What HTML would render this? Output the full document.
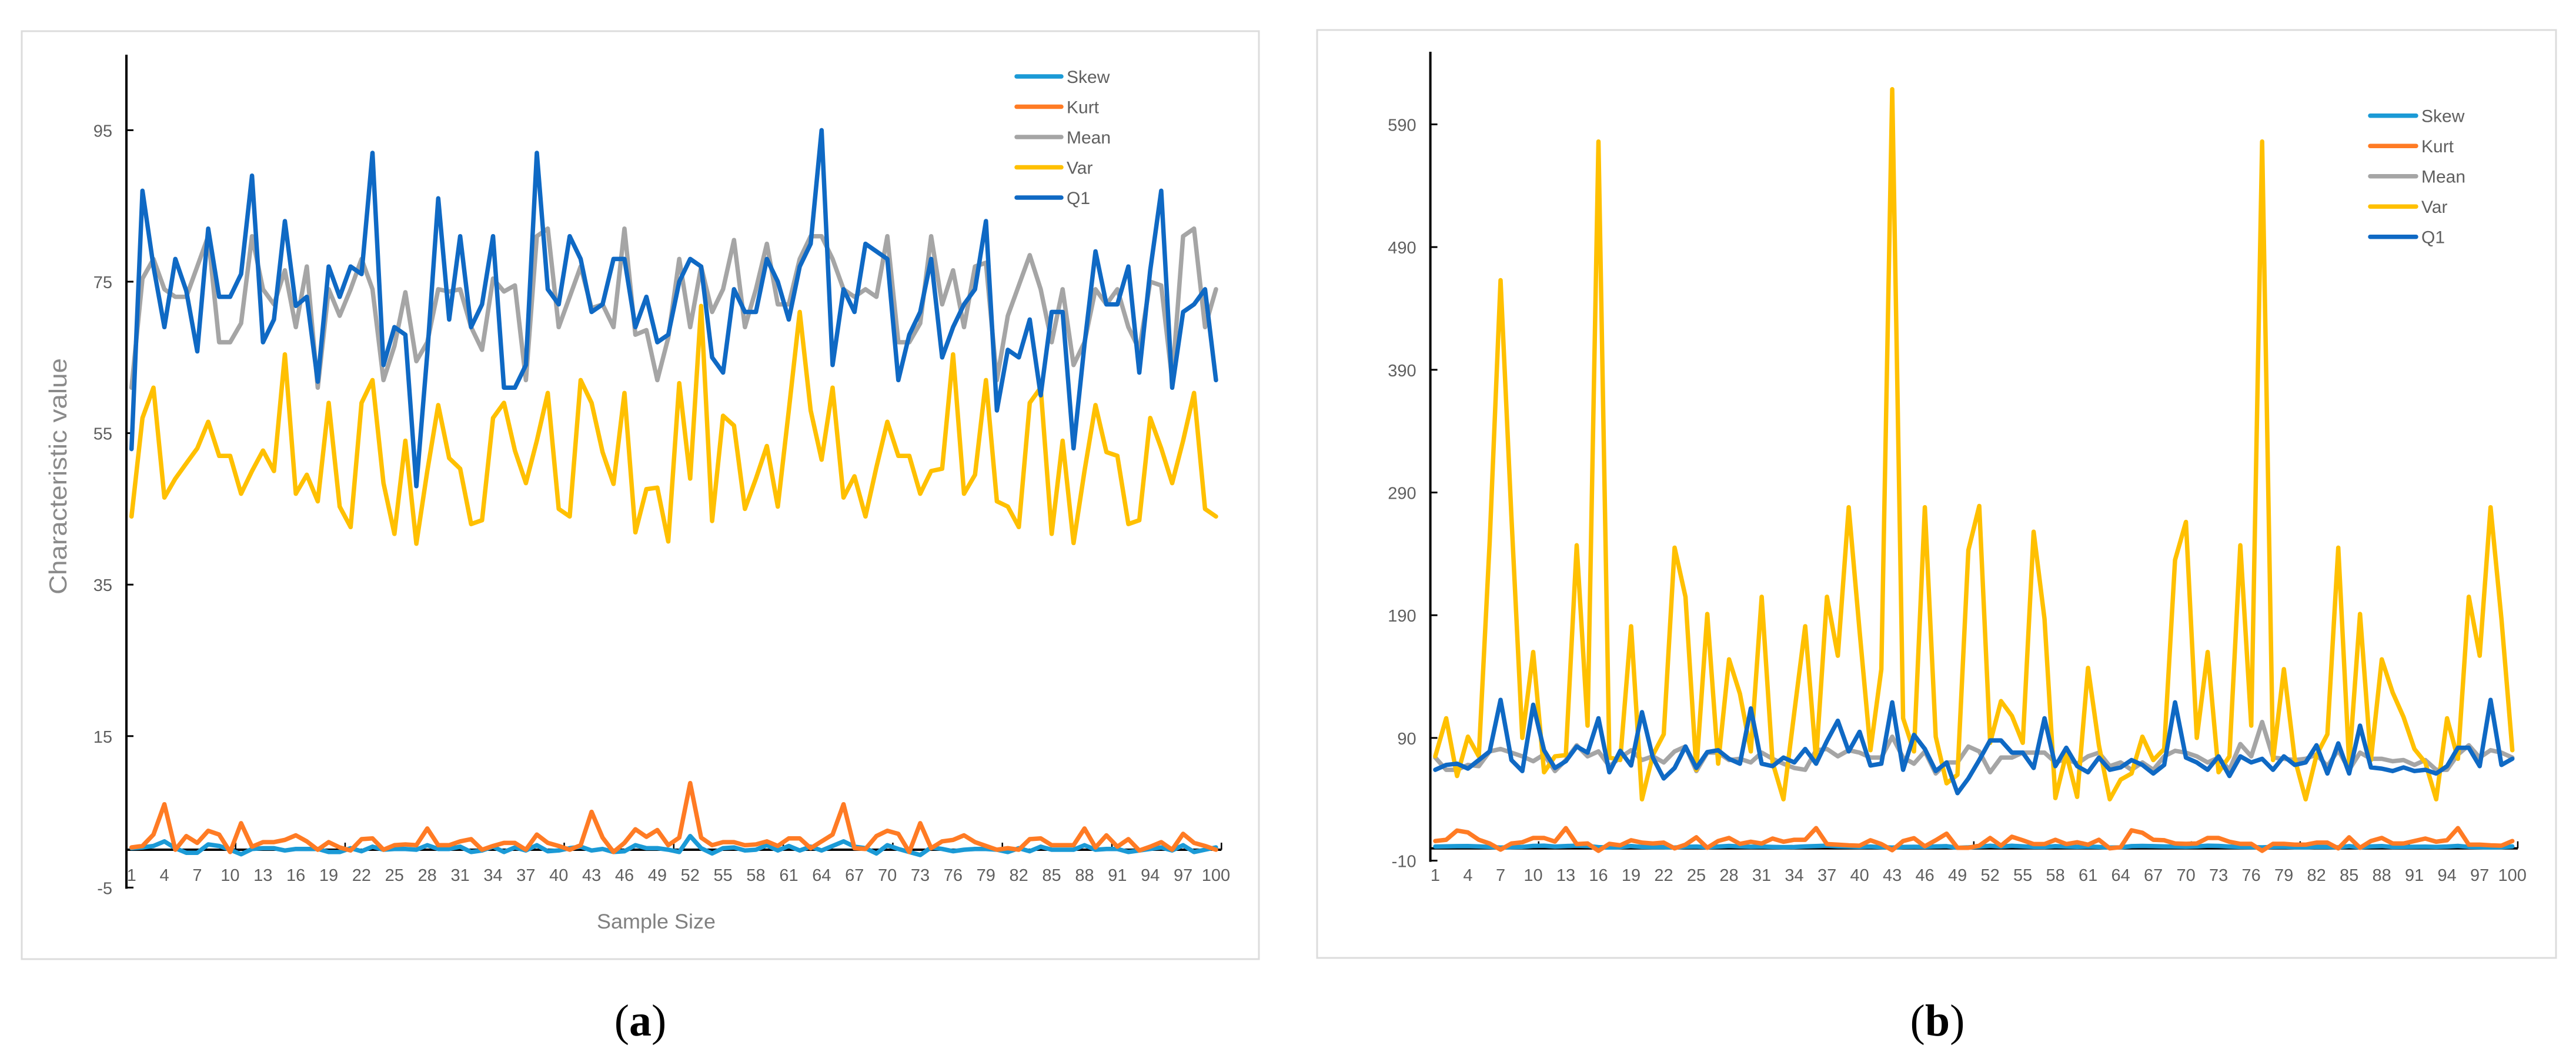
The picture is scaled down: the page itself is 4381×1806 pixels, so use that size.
<!DOCTYPE html>
<html lang="en">
<head>
<meta charset="utf-8">
<title>Characteristic value charts</title>
<style>
html,body{margin:0;padding:0;background:#fff;}
svg{display:block;font-family:"Liberation Sans",sans-serif;}
</style>
</head>
<body>
<svg id="figure" xmlns="http://www.w3.org/2000/svg" width="4381" height="1806" viewBox="0 0 4381 1806"></svg>
<script>
const seriesNames = ['Skew','Kurt','Mean','Var','Q1'];
const xTickLabels = [1,4,7,10,13,16,19,22,25,28,31,34,37,40,43,46,49,52,55,58,61,64,67,70,73,76,79,82,85,88,91,94,97,100];
const aYTicks = [95,75,55,35,15,-5];
const bYTicks = [590,490,390,290,190,90,-10];

const aSkew = [
.2,.3,.5,1.1,.2,-.4,-.4,.7,.5,0,
-.6,.1,.2,.2,-.1,.1,.1,.1,-.3,-.3,
.2,-.2,.4,0,.1,.1,0,.6,.1,.1,
.4,-.3,-.1,.4,-.3,.3,-.1,.6,-.2,-.1,
.2,.4,-.1,.1,-.3,-.2,.6,.2,.2,0,
-.3,1.8,.2,-.5,.2,.3,-.1,0,.6,-.1,
.5,-.1,.4,-.1,.5,1.1,.4,.2,-.5,.6,
.1,-.3,-.7,.3,.1,-.2,0,.1,.1,0,
-.3,.2,-.2,.4,0,0,0,.6,0,.1,
.1,-.3,-.1,.1,.3,-.1,.6,-.3,0,.3];
const aKurt = [
.3,.5,2,6,0,1.8,.9,2.5,2,-.3,
3.5,.4,1,1,1.3,1.9,1.1,0,1,.3,
-.1,1.4,1.5,0,.6,.7,.6,2.8,.6,.6,
1.1,1.4,0,.5,.9,.9,0,2,.9,.5,
0,.6,5,1.6,-.3,.9,2.7,1.7,2.6,.6,
1.6,8.8,1.6,.6,1,1,.6,.7,1.1,.5,
1.5,1.5,.2,1.1,2,6,.2,.1,1.8,2.5,
2.1,-.3,3.5,.2,1.1,1.3,1.9,1,.5,0,
.2,0,1.4,1.5,.6,.6,.6,2.8,.3,1.9,
.4,1.4,-.1,.4,1,0,2.1,.9,.5,0];
const aMean = [
61,75.4,78,74,73,73,77,81,67,67,
69.5,81,74,72,76.5,69,77,61,74,70.5,
74,78,74,62,66.5,73.6,64.5,67,74,73.7,
74,69,66,75.4,73.7,74.5,62,81,82,69,
73,77,71.5,72,69,82,68,68.6,62,67.6,
78,69,77,71,74,80.5,69,74,80,72,
72,78,81,81,78,74,73,74,73,81,
67,67,69.5,81,72,76.5,69,77,77.5,62,
70.5,74.5,78.5,74,67,74,64,67,74,72,
74,69,66,75,74.5,62,81,82,69,74];
const aVar = [
44,57,61,46.5,49,51,53,56.5,52,52,
47,50,52.7,50,65.4,47,49.5,46,59,45.3,
42.6,59,62,48.4,41.7,54,40.4,50,58.7,51.7,
50.3,43,43.5,57,59,52.7,48.4,54,60.3,45,
44,62,59,52.5,48.3,60.3,41.9,47.6,47.8,40.7,
61.6,49,71.8,43.4,57.3,56,45,49,53.3,45.3,
58,71,58,51.5,61,46.5,49.3,44,50.5,56.5,
52,52,47,50,50.3,65.4,47,49.5,62,46,
45.3,42.6,59,61,41.7,54,40.5,50,58.7,52.5,
52,43,43.5,57,53,48.4,54,60.3,45,44];
const aQ1 = [
52.9,87,77,69,78,73.8,65.8,82,73,73,
76,89,67,70,83,71.8,73,61.8,77,73,
77,76,92,64,69,68,48,65.5,86,70,
81,69,72,81,61,61,64,92,74,72,
81,78,71,72,78,78,69,73,67,68,
75,78,77,65,63,74,71,71,78,75,
70,77,80,95,64,74,71,80,79,78,
62,68,71,78,65,69,72,74,83,58,
66,65,70,60,71,71,53,66.7,79,72,
72,77,63,76.5,87,61,71,72,74,62];

const bSkew = [
1.5,1.7,1.8,1.9,1.6,1.2,.6,1,1.2,2,
2.2,1.5,1.9,2.2,1.9,1,.7,1,1.9,1.2,
1,1,.6,1.3,1.5,.9,1.5,2,1.6,1.3,
1.5,1.2,1,1.1,1.6,1.9,2.2,1.7,1.5,1.2,
1.5,1,.6,1.2,1.3,1.2,1.6,1.8,.5,.8,
1.4,2.1,1.4,2.1,1.7,1.2,1.1,1.8,1.5,1.2,
1.4,1.2,.6,.8,1.8,2,1.8,1.6,1.5,1.3,
1.6,2.2,2,1.5,1.1,1,.8,1.2,1.3,.9,
.8,1.2,1.1,.8,1.8,.8,1.6,1.9,1.1,1.2,
1.3,1.4,1.2,1.5,2,1.2,1,.8,.9,1.6];
const bKurt = [
6,7,14.5,13,7,4,-1,4,5,8.5,
8.5,5.5,16.5,3.5,4,-2,3.7,2.5,6.6,4.7,
4,4.7,0,3,9,.5,6,8.5,3.7,5.4,
4,8,5.4,7,7,16.5,3.5,3,2.5,2.2,
6.6,3.5,-1.5,6,8.3,1.7,6.6,12,.5,.5,
2.2,8.5,2.2,9.5,6.6,3.5,3.5,7,3.5,5,
3,7,0,1,14.7,12.7,7,6.6,4,3.7,
4,8.5,8.5,5.4,3.7,3.7,-2,3.7,3.7,3,
3,4.7,4.7,0,9,.5,6,8.5,4,4,
6,8,5.4,6.6,16.5,3,3,2.5,2.2,6];
const bMean = [
74,64,64,68,67,79,81,78,75,71,
76.5,63,72,84,75,79,67,74,80,72,
75,70,79,83,63,78,78,72,73,70,
78,73,69,65.5,64,80,81,75,80,78,
74,74,91,74,69,79,61,70,70,83,
79,62,74,74,78,78,78,70,73,69,
75,78,67,70,64,70,64,75,79.5,78,
75,70,74,64,85,75,103,74,73,72,
73,76.5,67,80,64,78,73,73,71,72,
68,72,64,64,76.5,84,74,80,78,74];
const bVar = [
75,106,59,91,75,250,463,270,90,160,
62,75,76,247,100,576,74,72,181,40,
76,93,245,205,64,191,69,154,126,79,
205,70,40,111,181,72,205,157,278,177,
80,146,618.6,106,79,278,91,53,60,243,
279,86,120,108,86,258,187,41,77,42,
147,84,40,56,61,91,72,81,235,266,
90,160,62,75,247,100,576,72,146,73,
40,76,93,245,69,191,72,154,127,107,
81,70,40,106,73,205,157,278,187,80];
const bQ1 = [
64,68,69,65,72,79,121,72,63,117,
80,65.5,71,83,78,106,62,79.5,67.5,111,
74,57,65.5,83,65.5,78.5,80,73,69,114,
69,67,74,70,81,69,87.5,104,79,95,
67.5,69,119,64,92.5,81,63,70,45,57,
72,88,88,78,78,65.5,106,67,82,67,
62,74,64,66,72,68,61,68,119,74,
70,64,75,59,75,70,73,64,75,68,
70,84,61,85.6,61,100,66,65,63,66,
63,64,61,67,82,82,67,121,68,73];

const seriesColors = {Skew:'#1B9AD6',Kurt:'#FF7B24',Mean:'#A5A5A5',Var:'#FFC000',Q1:'#0F69C4'};
const NS = 'http://www.w3.org/2000/svg';
const root = document.getElementById('figure');

function make(parent, tag, attrs, text) {
  const el = document.createElementNS(NS, tag);
  for (const k in attrs) el.setAttribute(k, attrs[k]);
  if (text !== undefined) el.textContent = text;
  parent.appendChild(el);
  return el;
}

function drawChart(key, c, yTicks, series) {
  const g = make(root, 'g', {});
  
  

  const panel = make(g, 'rect', {x:c.px, y:c.py, width:c.pw, height:c.ph, fill:'#fff', stroke:'#dcdcdc', 'stroke-width':3});
  
  

  const xScale = v => c.x1 + (v - 1) * (c.x100 - c.x1) / 99;
  const yScale = v => c.y0 - v * c.unit;
  const yMin = yTicks[yTicks.length - 1];

  const yAxis = make(g, 'line', {x1:c.axisX, x2:c.axisX, y1:c.axisTop, y2:yScale(yMin) + 2, stroke:'#000', 'stroke-width':4});
  
  

  const xAxis = make(g, 'line', {x1:c.axisX, x2:xScale(100.5), y1:yScale(0), y2:yScale(0), stroke:'#000', 'stroke-width':4});
  
  

  yTicks.forEach(v => {
    const tick = make(g, 'line', {x1:c.axisX, x2:c.axisX + 12, y1:yScale(v), y2:yScale(v), stroke:'#000', 'stroke-width':3});
    
    
    const label = make(g, 'text', {x:c.axisX - 24, y:yScale(v) + 11, 'text-anchor':'end', 'font-size':29, fill:'#5f5f5f'}, String(v));
    
    
  });

  for (let m = 10; m <= 100; m += 10) {
    const tick = make(g, 'line', {x1:xScale(m + .5), x2:xScale(m + .5), y1:yScale(0), y2:yScale(0) - 12, stroke:'#000', 'stroke-width':2.5});
    
    
  }

  xTickLabels.forEach(v => {
    const label = make(g, 'text', {x:xScale(v), y:1498, 'text-anchor':'middle', 'font-size':29, fill:'#5f5f5f'}, String(v));
    
    
  });

  seriesNames.forEach((name, s) => {
    const values = series[s];
    const pts = values.map((v, i) => xScale(i + 1).toFixed(1) + ',' + yScale(v).toFixed(1)).join(' ');
    const line = make(g, 'polyline', {points:pts, fill:'none', stroke:seriesColors[name], 'stroke-width':7.5, 'stroke-linejoin':'round', 'stroke-linecap':'round'});
    
    
  });

  seriesNames.forEach((name, s) => {
    const ly = c.legendY + s * c.legendStep;
    const entry = make(g, 'g', {});
    
    
    make(entry, 'line', {x1:c.legendX, x2:c.legendX + c.swatch, y1:ly, y2:ly, stroke:seriesColors[name], 'stroke-width':7.5, 'stroke-linecap':'round'});
    make(entry, 'text', {x:c.legendX + c.swatch + 9, y:ly + 11, 'font-size':30, fill:'#5f5f5f'}, name);
  });
}

drawChart('a', {px:37, py:53, pw:2104, ph:1578, x1:223.7, x100:2068, y0:1445, unit:12.88, axisX:215, axisTop:93,
  legendX:1729, swatch:76, legendY:130, legendStep:51.5}, aYTicks, [aSkew,aKurt,aMean,aVar,aQ1]);

drawChart('b', {px:2240, py:51, pw:2107, ph:1578, x1:2441, x100:4272.7, y0:1442.7, unit:2.0868, axisX:2432.6, axisTop:88,
  legendX:4031, swatch:78, legendY:196.7, legendStep:51.5}, bYTicks, [bSkew,bKurt,bMean,bVar,bQ1]);

const yTitle = make(root, 'text', {x:0, y:0, transform:'translate(113,810) rotate(-90)', 'text-anchor':'middle', 'font-size':42, fill:'#8a8a8a', textLength:402, lengthAdjust:'spacingAndGlyphs'}, 'Characteristic value');



const xTitle = make(root, 'text', {x:1116, y:1579, 'text-anchor':'middle', 'font-size':35, fill:'#808080', textLength:202, lengthAdjust:'spacingAndGlyphs'}, 'Sample Size');



function caption(name, x, letter) {
  const t = make(root, 'text', {x:x, y:1761, 'text-anchor':'middle', 'font-size':76, 'font-family':'"Liberation Serif",serif', fill:'#000'});
  
  
  make(t, 'tspan', {}, '(');
  make(t, 'tspan', {'font-weight':'bold'}, letter);
  make(t, 'tspan', {}, ')');
}
caption('caption-a', 1089, 'a');
caption('caption-b', 3295, 'b');
</script>
</body>
</html>
